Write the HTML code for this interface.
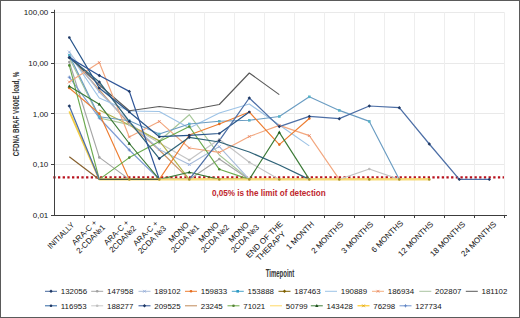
<!DOCTYPE html>
<html><head><meta charset="utf-8"><style>
html,body{margin:0;padding:0;background:#fff;}
body{width:520px;height:318px;position:relative;overflow:hidden;font-family:"Liberation Sans",sans-serif;}
#frame{position:absolute;left:0;top:0;width:518px;height:316px;border:1px solid #5a5a5a;}
svg{position:absolute;left:0;top:0;}
.ax{font-size:8px;fill:#161616;}
.lg{font-size:7.9px;fill:#161616;}
.xl{position:absolute;width:0;height:0;transform:rotate(-45deg);transform-origin:0 0;}
.xl div{position:absolute;right:0;top:0;transform:translateY(-50%);white-space:nowrap;text-align:center;font-size:8px;line-height:9.3px;color:#111;}
#ytitle{position:absolute;left:15.5px;top:113.5px;width:0;height:0;}
#ytitle div{position:absolute;left:0;top:0;transform:translate(-50%,-50%) rotate(-90deg) scaleX(0.745);white-space:nowrap;font-weight:bold;font-size:8.4px;color:#333;}
#tp{position:absolute;left:279.6px;top:273.0px;width:0;height:0;}
#tp div{position:absolute;left:0;top:0;transform:translate(-50%,-50%) scaleX(0.6);white-space:nowrap;font-weight:bold;font-size:10px;color:#333;}
#lod{position:absolute;left:212px;top:188.6px;white-space:nowrap;font-weight:bold;font-size:8.15px;color:#c0262d;}
</style></head><body>
<div id="frame"></div>
<svg width="520" height="318" viewBox="0 0 520 318">
<path d="M54.5 12.5H504.5" stroke="#e9e9e9" stroke-width="1"/>
<path d="M54.5 63.5H504.5" stroke="#e9e9e9" stroke-width="1"/>
<path d="M54.5 113.5H504.5" stroke="#e9e9e9" stroke-width="1"/>
<path d="M54.5 164.5H504.5" stroke="#e9e9e9" stroke-width="1"/>
<path d="M84.5 12.5V215" stroke="#eeeeee" stroke-width="1"/>
<path d="M114.5 12.5V215" stroke="#eeeeee" stroke-width="1"/>
<path d="M144.5 12.5V215" stroke="#eeeeee" stroke-width="1"/>
<path d="M174.5 12.5V215" stroke="#eeeeee" stroke-width="1"/>
<path d="M204.5 12.5V215" stroke="#eeeeee" stroke-width="1"/>
<path d="M234.5 12.5V215" stroke="#eeeeee" stroke-width="1"/>
<path d="M264.5 12.5V215" stroke="#eeeeee" stroke-width="1"/>
<path d="M294.5 12.5V215" stroke="#eeeeee" stroke-width="1"/>
<path d="M324.5 12.5V215" stroke="#eeeeee" stroke-width="1"/>
<path d="M354.5 12.5V215" stroke="#eeeeee" stroke-width="1"/>
<path d="M384.5 12.5V215" stroke="#eeeeee" stroke-width="1"/>
<path d="M414.5 12.5V215" stroke="#eeeeee" stroke-width="1"/>
<path d="M444.5 12.5V215" stroke="#eeeeee" stroke-width="1"/>
<path d="M474.5 12.5V215" stroke="#eeeeee" stroke-width="1"/>
<path d="M504.5 12.5V215" stroke="#eeeeee" stroke-width="1"/>
<path d="M53.3 177.4H504" stroke="#b8101c" stroke-width="2.4" stroke-dasharray="2.3 2.38"/>
<path d="M129.3 179.4 L159.3 179.4 L189.3 179.4 L219.3 179.4 L249.3 179.4 L279.3 179.4 L309.3 179.4 L339.3 179.4 L369.3 179.4 L399.3 179.4 L429.3 179.4" fill="none" stroke="#ffc000" stroke-width="1.15" stroke-linejoin="round"/>
<path d="M69.3 156.8 L99.3 179.4 L129.3 179.4 L159.3 179.4" fill="none" stroke="#86602e" stroke-width="1.2" stroke-linejoin="round"/>
<path d="M69.3 111.4 L99.3 179.4 L129.3 179.4 L159.3 179.4 L189.3 179.4 L219.3 179.4 L249.3 179.4 L279.3 179.4 L309.3 179.4 L339.3 179.4 L369.3 179.4 L399.3 179.4 L429.3 179.4" fill="none" stroke="#f3cd45" stroke-width="1.8" stroke-linejoin="round"/>
<path d="M69.3 56.0 L99.3 90.0 L129.3 124.0 L159.3 150.0 L189.3 179.4" fill="none" stroke="#c8956a" stroke-width="1.15" stroke-linejoin="round"/>
<path d="M69.3 58.0 L99.3 118.0 L129.3 124.6 L159.3 141.0 L189.3 114.7 L219.3 155.0 L249.3 179.4" fill="none" stroke="#a7c79a" stroke-width="1.15" stroke-linejoin="round"/>
<path d="M129.3 125.0 L159.3 143.0 L189.3 160.0 L219.3 139.2 L249.3 162.2 L279.3 179.4 L309.3 179.4 L339.3 179.4 L369.3 169.0 L399.3 179.4" fill="none" stroke="#c4c4c4" stroke-width="1.15" stroke-linejoin="round"/>
<path d="M69.3 62.0 L99.3 157.4 L129.3 179.4 L159.3 179.4 L189.3 179.4 L219.3 159.0 L249.3 179.4" fill="none" stroke="#a5a5a5" stroke-width="1.15" stroke-linejoin="round"/>
<path d="M69.3 52.0 L99.3 92.0 L129.3 122.0 L159.3 149.5 L189.3 164.6 L219.3 146.6 L249.3 179.4" fill="none" stroke="#a9bcd9" stroke-width="1.15" stroke-linejoin="round"/>
<path d="M69.3 54.0 L99.3 98.0 L129.3 111.0 L159.3 111.5 L189.3 128.0 L219.3 113.0 L249.3 104.0 L279.3 125.0 L309.3 145.9" fill="none" stroke="#9dc3e6" stroke-width="1.15" stroke-linejoin="round"/>
<path d="M69.3 77.2 L99.3 118.0 L129.3 150.0 L159.3 179.4" fill="none" stroke="#7d9bd3" stroke-width="1.15" stroke-linejoin="round"/>
<path d="M99.3 110.0 L129.3 125.0 L159.3 140.8 L189.3 179.4" fill="none" stroke="#b2b24c" stroke-width="1.15" stroke-linejoin="round"/>
<path d="M69.3 57.0 L99.3 85.0 L129.3 110.7 L159.3 106.5 L189.3 110.0 L219.3 104.5 L249.3 73.0 L279.3 94.6" fill="none" stroke="#595959" stroke-width="1.15" stroke-linejoin="round"/>
<path d="M69.3 55.2 L99.3 116.7 L129.3 120.8 L159.3 134.0 L189.3 124.0 L219.3 121.3 L249.3 120.3 L279.3 116.5 L309.3 96.8 L339.3 110.4 L369.3 121.4 L399.3 179.4" fill="none" stroke="#6a9cc2" stroke-width="1.15" stroke-linejoin="round"/>
<path d="M69.3 82.0 L99.3 62.5 L129.3 137.0 L159.3 121.4 L189.3 148.0 L219.3 152.4 L249.3 136.5 L279.3 125.4 L309.3 135.6 L339.3 179.4" fill="none" stroke="#f2a77f" stroke-width="1.15" stroke-linejoin="round"/>
<path d="M69.3 88.0 L99.3 113.6 L129.3 179.4 L159.3 179.4 L189.3 135.0 L219.3 124.0 L249.3 112.0 L279.3 144.6 L309.3 118.5" fill="none" stroke="#ed7d31" stroke-width="1.15" stroke-linejoin="round"/>
<path d="M69.3 65.4 L99.3 179.4 L129.3 157.6 L159.3 141.6 L189.3 126.5 L219.3 169.3 L249.3 179.4" fill="none" stroke="#6aaa4c" stroke-width="1.15" stroke-linejoin="round"/>
<path d="M69.3 86.2 L99.3 104.2 L129.3 143.5 L159.3 179.4 L189.3 172.2 L219.3 179.4 L249.3 179.4 L279.3 132.4 L309.3 179.4" fill="none" stroke="#3b7a36" stroke-width="1.15" stroke-linejoin="round"/>
<path d="M69.3 57.6 L99.3 82.0 L129.3 121.3 L159.3 158.6 L189.3 137.3 L219.3 142.0 L249.3 152.0 L279.3 165.0 L309.3 179.4" fill="none" stroke="#2f6378" stroke-width="1.25" stroke-linejoin="round"/>
<path d="M69.3 37.5 L99.3 88.0 L129.3 112.0 L159.3 136.7 L189.3 135.4 L219.3 133.5 L249.3 112.0" fill="none" stroke="#28558a" stroke-width="1.25" stroke-linejoin="round"/>
<path d="M69.3 57.6 L99.3 75.5 L129.3 91.4 L159.3 179.4" fill="none" stroke="#2f5597" stroke-width="1.25" stroke-linejoin="round"/>
<path d="M69.3 106.0 L99.3 179.4 L129.3 179.4 L159.3 179.4 L189.3 179.4 L219.3 140.6 L249.3 98.0 L279.3 126.6 L309.3 116.4 L339.3 118.7 L369.3 106.0 L399.3 107.7 L429.3 144.0 L459.3 179.4 L489.3 179.4" fill="none" stroke="#4d6fa6" stroke-width="1.25" stroke-linejoin="round"/>
<path d="M99.3 179.4 H429.3" stroke="#f7da7c" stroke-width="1.9"/>
<path d="M99.3 179.4 H159.3" stroke="#4f5a3a" stroke-width="1.1"/>
<circle cx="129.3" cy="179.4" r="1.3" fill="#ab9228"/>
<circle cx="159.3" cy="179.4" r="1.3" fill="#ab9228"/>
<circle cx="189.3" cy="179.4" r="1.3" fill="#ab9228"/>
<circle cx="219.3" cy="179.4" r="1.3" fill="#ab9228"/>
<circle cx="249.3" cy="179.4" r="1.3" fill="#ab9228"/>
<circle cx="279.3" cy="179.4" r="1.3" fill="#ab9228"/>
<circle cx="309.3" cy="179.4" r="1.3" fill="#ab9228"/>
<circle cx="339.3" cy="179.4" r="1.3" fill="#ab9228"/>
<circle cx="369.3" cy="179.4" r="1.3" fill="#ab9228"/>
<circle cx="399.3" cy="179.4" r="1.3" fill="#ab9228"/>
<circle cx="429.3" cy="179.4" r="1.3" fill="#ab9228"/>












<circle cx="129.3" cy="125.0" r="1.3" fill="#bdbdbd"/>
<circle cx="159.3" cy="143.0" r="1.3" fill="#bdbdbd"/>
<circle cx="189.3" cy="160.0" r="1.3" fill="#bdbdbd"/>
<circle cx="219.3" cy="139.2" r="1.3" fill="#bdbdbd"/>
<circle cx="249.3" cy="162.2" r="1.3" fill="#bdbdbd"/>
<circle cx="369.3" cy="169.0" r="1.3" fill="#bdbdbd"/>
<circle cx="69.3" cy="62.0" r="1.3" fill="#a0a0a0"/>
<circle cx="99.3" cy="157.4" r="1.3" fill="#a0a0a0"/>
<circle cx="219.3" cy="159.0" r="1.3" fill="#a0a0a0"/>
<path d="M67.9 50.6l2.8 2.8M70.7 50.6l-2.8 2.8" stroke="#8faadc" stroke-width="0.8"/>
<path d="M97.9 90.6l2.8 2.8M100.7 90.6l-2.8 2.8" stroke="#8faadc" stroke-width="0.8"/>
<path d="M127.9 120.6l2.8 2.8M130.7 120.6l-2.8 2.8" stroke="#8faadc" stroke-width="0.8"/>
<path d="M157.9 148.1l2.8 2.8M160.7 148.1l-2.8 2.8" stroke="#8faadc" stroke-width="0.8"/>
<path d="M187.9 163.2l2.8 2.8M190.7 163.2l-2.8 2.8" stroke="#8faadc" stroke-width="0.8"/>
<path d="M217.9 145.2l2.8 2.8M220.7 145.2l-2.8 2.8" stroke="#8faadc" stroke-width="0.8"/>









<path d="M67.7 77.2h3.2M69.3 75.6v3.2" stroke="#5b7fc0" stroke-width="0.8"/>
<path d="M97.7 118.0h3.2M99.3 116.4v3.2" stroke="#5b7fc0" stroke-width="0.8"/>
<path d="M127.7 150.0h3.2M129.3 148.4v3.2" stroke="#5b7fc0" stroke-width="0.8"/>











<rect x="68.0" y="53.9" width="2.6" height="2.6" fill="#58b2c8"/>
<rect x="98.0" y="115.4" width="2.6" height="2.6" fill="#58b2c8"/>
<rect x="128.0" y="119.5" width="2.6" height="2.6" fill="#58b2c8"/>
<rect x="158.0" y="132.7" width="2.6" height="2.6" fill="#58b2c8"/>
<rect x="188.0" y="122.7" width="2.6" height="2.6" fill="#58b2c8"/>
<rect x="218.0" y="120.0" width="2.6" height="2.6" fill="#58b2c8"/>
<rect x="248.0" y="119.0" width="2.6" height="2.6" fill="#58b2c8"/>
<rect x="278.0" y="115.2" width="2.6" height="2.6" fill="#58b2c8"/>
<rect x="308.0" y="95.5" width="2.6" height="2.6" fill="#58b2c8"/>
<rect x="338.0" y="109.1" width="2.6" height="2.6" fill="#58b2c8"/>
<rect x="368.0" y="120.1" width="2.6" height="2.6" fill="#58b2c8"/>
<path d="M67.9 80.6l2.8 2.8M70.7 80.6l-2.8 2.8" stroke="#e9825f" stroke-width="0.8"/>
<path d="M97.9 61.1l2.8 2.8M100.7 61.1l-2.8 2.8" stroke="#e9825f" stroke-width="0.8"/>
<path d="M127.9 135.6l2.8 2.8M130.7 135.6l-2.8 2.8" stroke="#e9825f" stroke-width="0.8"/>
<path d="M157.9 120.0l2.8 2.8M160.7 120.0l-2.8 2.8" stroke="#e9825f" stroke-width="0.8"/>
<path d="M187.9 146.6l2.8 2.8M190.7 146.6l-2.8 2.8" stroke="#e9825f" stroke-width="0.8"/>
<path d="M217.9 151.0l2.8 2.8M220.7 151.0l-2.8 2.8" stroke="#e9825f" stroke-width="0.8"/>
<path d="M247.9 135.1l2.8 2.8M250.7 135.1l-2.8 2.8" stroke="#e9825f" stroke-width="0.8"/>
<path d="M277.9 124.0l2.8 2.8M280.7 124.0l-2.8 2.8" stroke="#e9825f" stroke-width="0.8"/>
<path d="M307.9 134.2l2.8 2.8M310.7 134.2l-2.8 2.8" stroke="#e9825f" stroke-width="0.8"/>
<circle cx="69.3" cy="88.0" r="1.3" fill="#e46c1f"/>
<circle cx="99.3" cy="113.6" r="1.3" fill="#e46c1f"/>
<circle cx="189.3" cy="135.0" r="1.3" fill="#e46c1f"/>
<circle cx="219.3" cy="124.0" r="1.3" fill="#e46c1f"/>
<circle cx="249.3" cy="112.0" r="1.3" fill="#e46c1f"/>
<circle cx="279.3" cy="144.6" r="1.3" fill="#e46c1f"/>
<circle cx="309.3" cy="118.5" r="1.3" fill="#e46c1f"/>
<circle cx="69.3" cy="65.4" r="1.3" fill="#4f8a35"/>
<circle cx="129.3" cy="157.6" r="1.3" fill="#4f8a35"/>
<circle cx="159.3" cy="141.6" r="1.3" fill="#4f8a35"/>
<circle cx="189.3" cy="126.5" r="1.3" fill="#4f8a35"/>
<circle cx="219.3" cy="169.3" r="1.3" fill="#4f8a35"/>
<path d="M69.3 84.4l1.7 3l-3.4 0z" fill="#1e5a1e"/>
<path d="M99.3 102.4l1.7 3l-3.4 0z" fill="#1e5a1e"/>
<path d="M129.3 141.7l1.7 3l-3.4 0z" fill="#1e5a1e"/>
<path d="M189.3 170.4l1.7 3l-3.4 0z" fill="#1e5a1e"/>
<path d="M279.3 130.6l1.7 3l-3.4 0z" fill="#1e5a1e"/>
<path d="M69.3 55.9l1.7 1.7l-1.7 1.7l-1.7 -1.7z" fill="#213a66"/>
<path d="M99.3 80.3l1.7 1.7l-1.7 1.7l-1.7 -1.7z" fill="#213a66"/>
<path d="M129.3 119.6l1.7 1.7l-1.7 1.7l-1.7 -1.7z" fill="#213a66"/>
<path d="M159.3 156.9l1.7 1.7l-1.7 1.7l-1.7 -1.7z" fill="#213a66"/>
<path d="M189.3 135.6l1.7 1.7l-1.7 1.7l-1.7 -1.7z" fill="#213a66"/>
<circle cx="69.3" cy="37.5" r="1.3" fill="#1f3864"/>
<circle cx="99.3" cy="88.0" r="1.3" fill="#1f3864"/>
<circle cx="129.3" cy="112.0" r="1.3" fill="#1f3864"/>
<circle cx="159.3" cy="136.7" r="1.3" fill="#1f3864"/>
<circle cx="189.3" cy="135.4" r="1.3" fill="#1f3864"/>
<circle cx="219.3" cy="133.5" r="1.3" fill="#1f3864"/>
<circle cx="249.3" cy="112.0" r="1.3" fill="#1f3864"/>
<path d="M69.3 55.9l1.7 1.7l-1.7 1.7l-1.7 -1.7z" fill="#203864"/>
<path d="M99.3 73.8l1.7 1.7l-1.7 1.7l-1.7 -1.7z" fill="#203864"/>
<path d="M129.3 89.7l1.7 1.7l-1.7 1.7l-1.7 -1.7z" fill="#203864"/>
<path d="M69.3 104.3l1.7 1.7l-1.7 1.7l-1.7 -1.7z" fill="#1f3864"/>
<path d="M219.3 138.9l1.7 1.7l-1.7 1.7l-1.7 -1.7z" fill="#1f3864"/>
<path d="M249.3 96.3l1.7 1.7l-1.7 1.7l-1.7 -1.7z" fill="#1f3864"/>
<path d="M279.3 124.9l1.7 1.7l-1.7 1.7l-1.7 -1.7z" fill="#1f3864"/>
<path d="M309.3 114.7l1.7 1.7l-1.7 1.7l-1.7 -1.7z" fill="#1f3864"/>
<path d="M339.3 117.0l1.7 1.7l-1.7 1.7l-1.7 -1.7z" fill="#1f3864"/>
<path d="M369.3 104.3l1.7 1.7l-1.7 1.7l-1.7 -1.7z" fill="#1f3864"/>
<path d="M399.3 106.0l1.7 1.7l-1.7 1.7l-1.7 -1.7z" fill="#1f3864"/>
<path d="M429.3 142.3l1.7 1.7l-1.7 1.7l-1.7 -1.7z" fill="#1f3864"/>
<path d="M459.3 177.7l1.7 1.7l-1.7 1.7l-1.7 -1.7z" fill="#1f3864"/>
<path d="M489.3 177.7l1.7 1.7l-1.7 1.7l-1.7 -1.7z" fill="#1f3864"/>
<path d="M54.5 9.8V216" stroke="#404040" stroke-width="1"/>
<path d="M54 215.5H507" stroke="#3c3c3c" stroke-width="1"/>
<path d="M51 12.5H54.5" stroke="#404040" stroke-width="1"/>
<text x="48.3" y="15.3" class="ax" text-anchor="end">100,00</text>
<path d="M51 63.5H54.5" stroke="#404040" stroke-width="1"/>
<text x="48.3" y="66.0" class="ax" text-anchor="end">10,00</text>
<path d="M51 113.5H54.5" stroke="#404040" stroke-width="1"/>
<text x="48.3" y="116.7" class="ax" text-anchor="end">1,00</text>
<path d="M51 164.5H54.5" stroke="#404040" stroke-width="1"/>
<text x="48.3" y="167.3" class="ax" text-anchor="end">0,10</text>
<path d="M51 215.5H54.5" stroke="#404040" stroke-width="1"/>
<text x="48.3" y="218.0" class="ax" text-anchor="end">0,01</text>
<path d="M84.5 215V218" stroke="#404040" stroke-width="1"/>
<path d="M114.5 215V218" stroke="#404040" stroke-width="1"/>
<path d="M144.5 215V218" stroke="#404040" stroke-width="1"/>
<path d="M174.5 215V218" stroke="#404040" stroke-width="1"/>
<path d="M204.5 215V218" stroke="#404040" stroke-width="1"/>
<path d="M234.5 215V218" stroke="#404040" stroke-width="1"/>
<path d="M264.5 215V218" stroke="#404040" stroke-width="1"/>
<path d="M294.5 215V218" stroke="#404040" stroke-width="1"/>
<path d="M324.5 215V218" stroke="#404040" stroke-width="1"/>
<path d="M354.5 215V218" stroke="#404040" stroke-width="1"/>
<path d="M384.5 215V218" stroke="#404040" stroke-width="1"/>
<path d="M414.5 215V218" stroke="#404040" stroke-width="1"/>
<path d="M444.5 215V218" stroke="#404040" stroke-width="1"/>
<path d="M474.5 215V218" stroke="#404040" stroke-width="1"/>
<path d="M504.5 215V218" stroke="#404040" stroke-width="1"/>
<path d="M45.0 291.3h12" stroke="#44679b" stroke-width="1"/>
<path d="M51.0 289.6l1.7 1.7l-1.7 1.7l-1.7 -1.7z" fill="#1f3864"/>
<text x="60.8" y="294.1" class="lg">132056</text>
<path d="M91.2 291.3h12" stroke="#a5a5a5" stroke-width="1"/>
<circle cx="97.2" cy="291.3" r="1.3" fill="#a0a0a0"/>
<text x="107.0" y="294.1" class="lg">147958</text>
<path d="M138.5 291.3h12" stroke="#a9bcd9" stroke-width="1"/>
<path d="M143.1 289.9l2.8 2.8M145.9 289.9l-2.8 2.8" stroke="#8faadc" stroke-width="0.8"/>
<text x="154.3" y="294.1" class="lg">189102</text>
<path d="M185.0 291.3h12" stroke="#ed7d31" stroke-width="1"/>
<circle cx="191.0" cy="291.3" r="1.3" fill="#e46c1f"/>
<text x="200.8" y="294.1" class="lg">159833</text>
<path d="M231.8 291.3h12" stroke="#4aa3c8" stroke-width="1"/>
<rect x="236.4" y="290.0" width="2.6" height="2.6" fill="#2e9bc6"/>
<text x="247.6" y="294.1" class="lg">153888</text>
<path d="M278.5 291.3h12" stroke="#7f6000" stroke-width="1"/>
<path d="M284.5 289.6l1.7 1.7l-1.7 1.7l-1.7 -1.7z" fill="#7f6000"/>
<text x="294.3" y="294.1" class="lg">187463</text>
<path d="M325.0 291.3h12" stroke="#9dc3e6" stroke-width="1"/>

<text x="340.8" y="294.1" class="lg">190889</text>
<path d="M372.0 291.3h12" stroke="#f4b183" stroke-width="1"/>
<path d="M376.6 289.9l2.8 2.8M379.4 289.9l-2.8 2.8" stroke="#e9825f" stroke-width="0.8"/>
<text x="387.8" y="294.1" class="lg">186934</text>
<path d="M419.3 291.3h12" stroke="#a9c4a0" stroke-width="1"/>

<text x="435.1" y="294.1" class="lg">202807</text>
<path d="M465.8 291.3h12" stroke="#595959" stroke-width="1"/>

<text x="481.6" y="294.1" class="lg">181102</text>
<path d="M45.0 305.8h12" stroke="#2e66a2" stroke-width="1"/>
<circle cx="51.0" cy="305.8" r="1.3" fill="#1f3864"/>
<text x="60.8" y="308.6" class="lg">116953</text>
<path d="M91.2 305.8h12" stroke="#c9c9c9" stroke-width="1"/>
<circle cx="97.2" cy="305.8" r="1.3" fill="#c0c0c0"/>
<text x="107.0" y="308.6" class="lg">188277</text>
<path d="M138.5 305.8h12" stroke="#2f5597" stroke-width="1"/>
<path d="M144.5 304.1l1.7 1.7l-1.7 1.7l-1.7 -1.7z" fill="#203864"/>
<text x="154.3" y="308.6" class="lg">209525</text>
<path d="M185.0 305.8h12" stroke="#c08a5a" stroke-width="1"/>

<text x="200.8" y="308.6" class="lg">23245</text>
<path d="M227.5 305.8h12" stroke="#70ad47" stroke-width="1"/>
<circle cx="233.5" cy="305.8" r="1.3" fill="#548235"/>
<text x="243.3" y="308.6" class="lg">71021</text>
<path d="M270.0 305.8h12" stroke="#ffd966" stroke-width="1"/>

<text x="285.8" y="308.6" class="lg">50799</text>
<path d="M310.8 305.8h12" stroke="#3f7f3a" stroke-width="1"/>
<path d="M316.8 304.0l1.7 3l-3.4 0z" fill="#1e4d1e"/>
<text x="326.6" y="308.6" class="lg">143428</text>
<path d="M357.5 305.8h12" stroke="#ffc000" stroke-width="1"/>
<path d="M362.1 304.4l2.8 2.8M364.9 304.4l-2.8 2.8" stroke="#d4a017" stroke-width="0.8"/>
<text x="373.3" y="308.6" class="lg">76298</text>
<path d="M399.5 305.8h12" stroke="#6f95d0" stroke-width="1"/>
<path d="M403.9 305.8h3.2M405.5 304.2v3.2" stroke="#5b7fc0" stroke-width="0.8"/>
<text x="415.3" y="308.6" class="lg">127734</text>
</svg>
<div id="ytitle"><div>CFDNA BRAF V600E load, %</div></div>
<div id="tp"><div>Timepoint</div></div>
<div id="lod">0,05% is the limit of detection</div>
<div class="xl" style="left:72.8px;top:224.2px"><div style="transform:translateY(-50%) scaleX(0.94);transform-origin:right center">INITIALLY</div></div>
<div class="xl" style="left:101.2px;top:222.8px"><div>ARA-C +<br>2-CDA№1</div></div>
<div class="xl" style="left:131.7px;top:224.2px"><div>ARA-C +<br>2CDA№2</div></div>
<div class="xl" style="left:162.2px;top:223.7px"><div>ARA-C +<br>2CDA №3</div></div>
<div class="xl" style="left:194.8px;top:222.8px"><div>MONO<br>2CDA №1</div></div>
<div class="xl" style="left:225.3px;top:222.7px"><div>MONO<br>2CDA №2</div></div>
<div class="xl" style="left:255.1px;top:222.5px"><div>MONO<br>2CDA №3</div></div>
<div class="xl" style="left:285.4px;top:226.2px"><div>END OF THE<br>THERAPY</div></div>
<div class="xl" style="left:313.2px;top:223.3px"><div>1 MONTH</div></div>
<div class="xl" style="left:342.2px;top:223.1px"><div>2 MONTHS</div></div>
<div class="xl" style="left:372.2px;top:223.2px"><div>3 MONTHS</div></div>
<div class="xl" style="left:401.6px;top:222.3px"><div>6 MONTHS</div></div>
<div class="xl" style="left:431.8px;top:223.1px"><div>12 MONTHS</div></div>
<div class="xl" style="left:463.9px;top:223.1px"><div>18 MONTHS</div></div>
<div class="xl" style="left:495.1px;top:223.1px"><div>24 MONTHS</div></div>
</body></html>
